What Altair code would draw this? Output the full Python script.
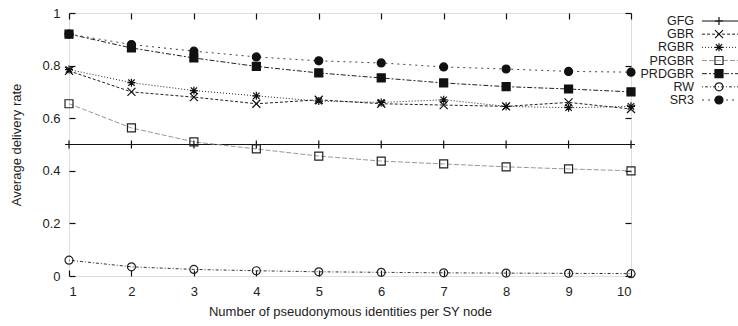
import altair as alt
import pandas as pd

x_vals = [1, 2, 3, 4, 5, 6, 7, 8, 9, 10]
series_names = ["GFG", "GBR", "RGBR", "PRGBR", "PRDGBR", "RW", "SR3"]

gfg = [0.5, 0.5, 0.5, 0.5, 0.5, 0.5, 0.5, 0.5, 0.5, 0.5]
gbr = [0.78, 0.70, 0.68, 0.655, 0.67, 0.655, 0.65, 0.645, 0.66, 0.635]
rgbr = [0.785, 0.735, 0.705, 0.685, 0.665, 0.66, 0.67, 0.645, 0.64, 0.645]
prgbr = [0.655, 0.563, 0.51, 0.483, 0.456, 0.437, 0.426, 0.415, 0.407, 0.40]
prdgbr = [0.92, 0.867, 0.829, 0.797, 0.772, 0.753, 0.734, 0.72, 0.711, 0.70]
rw = [0.06, 0.035, 0.025, 0.02, 0.016, 0.014, 0.012, 0.011, 0.01, 0.009]
sr3 = [0.92, 0.88, 0.855, 0.833, 0.818, 0.81, 0.795, 0.787, 0.778, 0.775]

values = [gfg, gbr, rgbr, prgbr, prdgbr, rw, sr3]
rows = []
for name, vals in zip(series_names, values):
    for xv, yv in zip(x_vals, vals):
        rows.append({"series": name, "x": xv, "y": yv})
df = pd.DataFrame(rows)
legend_df = pd.DataFrame({"series": series_names})

W, H = 562, 263
FONT = "Liberation Sans"
FS = 13

dash_range = [[1, 0], [3, 2], [1, 2], [5, 2], [5, 2, 2, 2], [1, 2, 3, 2], [2, 4]]
line_color_range = ["#111", "#222", "#222", "#999", "#222", "#333", "#444"]
mark_stroke_range = ["#111", "#111", "#111", "#222", "#111", "#222", "#111"]
fill_range = ["transparent", "transparent", "transparent", "transparent", "#111", "transparent", "#111"]
shape_range = [
    "M-1,0H1M0,-1V1",
    "M-1,-1L1,1M-1,1L1,-1",
    "M-1,0H1M0,-1V1M-0.8,-0.8L0.8,0.8M-0.8,0.8L0.8,-0.8",
    "square",
    "square",
    "circle",
    "circle",
]

dash_scale = alt.Scale(domain=series_names, range=dash_range)
color_scale = alt.Scale(domain=series_names, range=line_color_range)
mstroke_scale = alt.Scale(domain=series_names, range=mark_stroke_range)
fill_scale = alt.Scale(domain=series_names, range=fill_range)
shape_scale = alt.Scale(domain=series_names, range=shape_range)

xscale = alt.Scale(domain=[1, 10], nice=False, zero=False)
yscale = alt.Scale(domain=[0, 1], nice=False)
xticks = x_vals
yticks = [0, 0.2, 0.4, 0.6, 0.8, 1]

base = alt.Chart(df)

lines = base.mark_line(strokeWidth=1).encode(
    x=alt.X("x:Q", scale=xscale, axis=alt.Axis(
        orient="bottom", values=xticks, tickSize=0, domain=False, grid=False,
        labelPadding=9, labelFontSize=FS, labelFont=FONT, labelColor="#222",
        title="Number of pseudonymous identities per SY node", titleFont=FONT,
        titleFontSize=FS, titleFontWeight="normal", titleColor="#222", titlePadding=7)),
    y=alt.Y("y:Q", scale=yscale, axis=alt.Axis(
        orient="left", values=yticks, tickSize=0, domain=False, grid=False,
        labelExpr="format(datum.value, '~g')", labelPadding=9, labelFontSize=FS,
        labelFont=FONT, labelColor="#222",
        title="Average delivery rate", titleFont=FONT, titleFontSize=FS,
        titleFontWeight="normal", titleColor="#222", titlePadding=18)),
    detail="series:N",
    strokeDash=alt.StrokeDash("series:N", scale=dash_scale, legend=None),
    color=alt.Color("series:N", scale=color_scale, legend=None),
)

points = base.mark_point(size=64, strokeWidth=1.2, opacity=1, filled=False).encode(
    x=alt.X("x:Q", scale=xscale, axis=alt.Axis(
        orient="top", offset=-H, values=xticks, tickSize=6, labels=False, domain=False,
        grid=False, title=None, tickColor="#111", tickWidth=1.2)),
    y=alt.Y("y:Q", scale=yscale, axis=alt.Axis(
        orient="right", offset=-W, values=yticks, tickSize=6, labels=False, domain=False,
        grid=False, title=None, tickColor="#111", tickWidth=1.2)),
    shape=alt.Shape("series:N", scale=shape_scale, legend=None),
    fill=alt.Fill("series:N", scale=fill_scale, legend=None),
    stroke=alt.Stroke("series:N", scale=mstroke_scale, legend=None),
)

ticks_layer = base.mark_point(opacity=0).encode(
    x=alt.X("x:Q", scale=xscale, axis=alt.Axis(
        orient="bottom", offset=-H, values=xticks, tickSize=6, labels=False, domain=False,
        grid=False, title=None, tickColor="#111", tickWidth=1.2)),
    y=alt.Y("y:Q", scale=yscale, axis=alt.Axis(
        orient="left", offset=-W, values=yticks, tickSize=6, labels=False, domain=False,
        grid=False, title=None, tickColor="#111", tickWidth=1.2)),
)

main = alt.layer(lines, points, ticks_layer)

ly = alt.Y("series:N", scale=alt.Scale(domain=series_names, type="point", range=[8, 87], padding=0), axis=None)
leg = alt.Chart(legend_df)
leg_text = leg.mark_text(align="right", baseline="middle", font=FONT, fontSize=12.5, color="#222").encode(
    x=alt.value(625), y=ly, text="series:N")
leg_line = leg.mark_rule(strokeWidth=1).encode(
    x=alt.value(633), x2=alt.value(680), y=ly,
    strokeDash=alt.StrokeDash("series:N", scale=dash_scale, legend=None),
    color=alt.Color("series:N", scale=color_scale, legend=None),
)
leg_pts = leg.mark_point(size=64, strokeWidth=1.2, opacity=1, filled=False).encode(
    x=alt.value(650), y=ly,
    shape=alt.Shape("series:N", scale=shape_scale, legend=None),
    fill=alt.Fill("series:N", scale=fill_scale, legend=None),
    stroke=alt.Stroke("series:N", scale=mstroke_scale, legend=None),
)
legend = alt.layer(leg_text, leg_line, leg_pts)

chart = alt.layer(main, legend).resolve_scale(y="independent").properties(
    width=W, height=H,
    autosize=alt.AutoSizeParams(type="none"),
    padding={"left": 69, "top": 13, "right": 107, "bottom": 50},
).configure_view(stroke="#111", strokeWidth=1.5).configure(background="white")

chart.save("out.html", embed_options={"renderer": "svg", "actions": False})
